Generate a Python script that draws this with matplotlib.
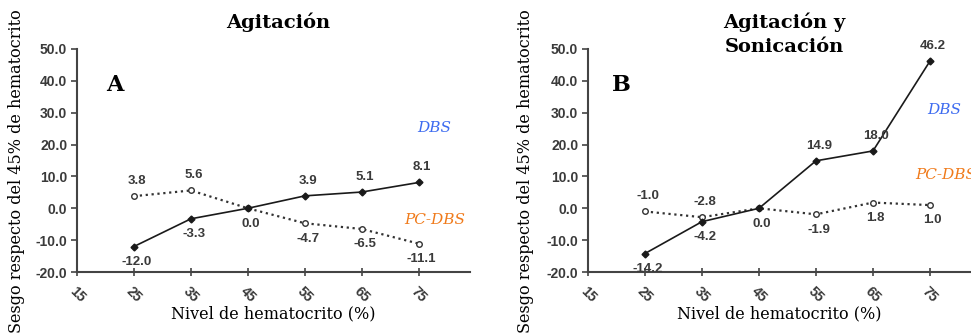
import matplotlib.pyplot as plt
import matplotlib.transforms as mtransforms

# datos
hto = [25, 35, 45, 55, 65, 75]
xticks = [15, 25, 35, 45, 55, 65, 75]

dbs_a = [-12.0, -3.3, 0.0, 3.9, 5.1, 8.1]
pcdbs_a = [3.8, 5.6, 0.0, -4.7, -6.5, -11.1]
dbs_b = [-14.2, -4.2, 0.0, 14.9, 18.0, 46.2]
pcdbs_b = [-1.0, -2.8, 0.0, -1.9, 1.8, 1.0]

# +1 label above the point, -1 below, 0 none
dbs_a_pos = [-1, -1, -1, 1, 1, 1]
pcdbs_a_pos = [1, 1, 0, -1, -1, -1]
dbs_b_pos = [-1, -1, -1, 1, 1, 1]
pcdbs_b_pos = [1, 1, 0, -1, -1, -1]

serif = "DejaVu Serif"
gray = "#3a3a3a"

fig = plt.figure(figsize=(9.71, 3.35), dpi=100)
axA = fig.add_axes([77/971, 1-272/335, 393/971, 223/335])
axB = fig.add_axes([588/971, 1-272/335, 383/971, 223/335])


def panel(ax, dbs, pcdbs, dpos, ppos, xmax, title, letter, letter_x, dbs_xy, pc_xy):
    ax.plot(hto, dbs, "-", color="#1a1a1a", lw=1.2, marker="D", ms=3.5,
            mfc="#1a1a1a", mec="#1a1a1a", zorder=3)
    ax.plot(hto, pcdbs, ":", color="#333333", lw=1.6, marker="o", ms=4,
            mfc="white", mec="#333333", mew=1.0, zorder=2)
    for x, y, p in list(zip(hto, dbs, dpos)) + list(zip(hto, pcdbs, ppos)):
        if p == 0:
            continue
        ax.annotate("%.1f" % y, (x, y), xytext=(2, 11 * p), textcoords="offset points",
                    ha="center", va="center", fontsize=9.5, fontweight="bold",
                    color=gray, family="Liberation Sans")
    ax.set_xlim(15, xmax)
    ax.set_ylim(-20, 50)
    ax.set_yticks(range(-20, 51, 10))
    ax.set_yticklabels(["%.1f" % v for v in range(-20, 51, 10)])
    ax.set_xticks(xticks)
    ax.set_xticklabels([str(v) for v in xticks], rotation=-45, ha="center")
    off = mtransforms.ScaledTranslation(9/100, -1/100, fig.dpi_scale_trans)
    for lab in ax.get_xticklabels():
        lab.set_transform(lab.get_transform() + off)
    for lab in ax.get_xticklabels() + ax.get_yticklabels():
        lab.set_family("Liberation Sans")
        lab.set_fontweight("bold")
        lab.set_fontsize(10)
        lab.set_color(gray)
    for s in ["top", "right"]:
        ax.spines[s].set_visible(False)
    for s in ["left", "bottom"]:
        ax.spines[s].set_color("#444444")
        ax.spines[s].set_linewidth(1.5)
    ax.tick_params(axis="y", length=4, width=1.2, color="#444444", pad=3)
    ax.tick_params(axis="x", direction="inout", length=6, width=1.2, color="#444444", pad=6)
    ax.set_xlabel("Nivel de hematocrito (%)", family=serif, fontsize=11.5, labelpad=0)
    ax.text(0.5 + 0.012, 1.165, title, transform=ax.transAxes, ha="center", va="top",
            family=serif, fontweight="bold", fontsize=14, linespacing=1.45)
    ax.text(letter_x, 0.84, letter, transform=ax.transAxes, ha="center", va="center",
            family=serif, fontweight="bold", fontsize=16)
    ax.text(dbs_xy[0], dbs_xy[1], "DBS", ha="left", va="center", family=serif,
            style="italic", fontsize=11, color="#3d6bf0", clip_on=False)
    ax.text(pc_xy[0], pc_xy[1], "PC-DBS", ha="left", va="center", family=serif,
            style="italic", fontsize=11, color="#f07a1a", clip_on=False)


panel(axA, dbs_a, pcdbs_a, dbs_a_pos, pcdbs_a_pos, 84, "Agitación", "A", 0.095,
      (74.8, 25.2), (72.5, -3.7))
panel(axB, dbs_b, pcdbs_b, dbs_b_pos, pcdbs_b_pos, 82.2, "Agitación y\nSonicación", "B", 0.087,
      (74.5, 30.9), (72.4, 10.5))

for xc in [17/971, 525/971]:
    fig.text(xc, 0.49, "Sesgo respecto del 45% de hematocrito", rotation=90,
             ha="center", va="center", family=serif, fontsize=11.5)

fig.savefig("out.png", dpi=100)
